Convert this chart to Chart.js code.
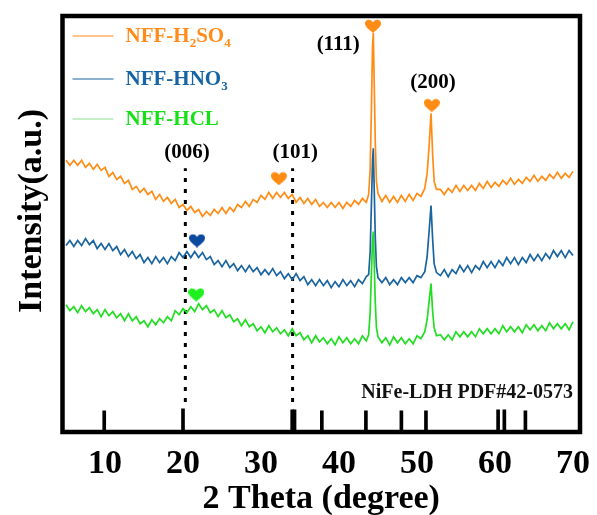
<!DOCTYPE html>
<html>
<head>
<meta charset="utf-8">
<script src="https://cdn.jsdelivr.net/npm/chart.js@4"></script>
<style>html,body{margin:0;padding:0;background:#fff;}canvas{display:block;}</style>
</head>
<body>
<canvas id="c" width="597" height="515"></canvas>
<script>
// 2θ sampling positions (degrees)
const twoTheta = [5,5.5,6,6.5,7,7.5,8,8.5,9,9.5,10,10.5,11,11.5,12,12.5,13,13.5,14,14.5,15,15.5,16,16.5,17,17.5,18,18.5,19,19.5,20,20.5,21,21.5,22,22.5,23,23.5,24,24.5,25,25.5,26,26.5,27,27.5,28,28.5,29,29.5,30,30.5,31,31.5,32,32.5,33,33.5,34,34.5,35,35.5,36,36.5,37,37.5,38,38.5,39,39.5,40,40.5,41,41.5,42,42.5,43,43.5,
43.8,44.0,44.15,44.3,44.4,44.5,44.65,44.8,45.0,
45.5,46,46.5,47,47.5,48,48.5,49,49.5,50,50.5,
51.0,51.3,51.55,51.8,52.0,52.2,52.5,
53,53.5,54,54.5,55,55.5,56,56.5,57,57.5,58,58.5,59,59.5,60,60.5,61,61.5,62,62.5,63,63.5,64,64.5,65,65.5,66,66.5,67,67.5,68,68.5,69,69.5,70];

// Intensities (a.u., stacked with offsets as in the figure)
const nffH2SO4 = [271,266,271,266,271,264,268,262,267,261,264,255,259,252,255,248,251,242,245,239,243,237,240,232,237,230,234,228,232,224,227,221,225,219,222,215,220,216,222,218,224,218,224,220,227,224,230,225,232,229,236,232,239,233,239,234,239,233,237,229,234,228,233,227,232,225,229,224,229,224,229,223,229,225,231,227,233,229,
237,262,320,385,398,355,290,250,238,
230,236,229,235,229,236,230,237,231,238,235,
243,258,285,318,278,250,242,
242,237,243,239,246,240,246,241,246,241,248,243,250,244,249,245,251,247,253,247,252,248,254,250,256,250,255,251,257,253,259,253,258,254,260];

const nffHNO3 = [186,191,185,191,186,193,187,191,183,188,182,188,181,185,177,182,175,180,173,177,169,174,168,175,169,174,168,175,171,179,174,180,174,180,174,179,172,175,167,171,165,171,164,168,161,166,160,166,160,164,157,162,157,163,156,160,153,158,152,158,151,155,147,152,146,152,146,151,144,150,145,152,146,151,145,152,148,155,
157,180,225,270,283,248,195,165,154,
149,154,147,152,147,154,149,154,149,156,154,
160,175,200,226,193,168,159,
156,162,155,162,158,166,160,166,159,166,162,170,164,170,164,171,166,174,168,174,167,174,169,177,171,177,171,178,173,181,175,181,174,181,176];

const nffHCL = [127,121,125,119,126,120,124,118,122,115,122,116,120,114,118,111,118,111,115,108,111,105,112,107,113,109,115,111,121,117,123,119,125,120,128,122,126,119,122,115,121,114,117,110,113,106,112,105,108,101,105,99,106,100,104,98,102,96,103,96,99,92,96,89,96,90,94,88,93,87,95,89,94,88,93,88,96,91,
97,120,158,190,200,172,130,104,95,
89,94,87,95,89,94,88,93,88,96,93,
100,112,130,148,121,104,96,
97,92,97,92,100,95,100,95,100,95,103,98,103,98,103,98,106,100,105,100,105,99,107,102,107,101,106,101,109,103,108,103,108,102,110];

// NiFe-LDH reference pattern (PDF#42-0573) stick positions and heights
const refPeaks = [9.9, 20.0, 34.0, 34.3, 37.8, 43.45, 48.0, 51.15, 60.4, 61.2, 63.9];
const refHeights = [21, 23, 22, 22, 21, 21, 21, 21, 22, 22, 21];

// Dotted guide lines
const guideX = [20.3, 34.05];
const guideYRange = [30, 263];

// Peak index labels
const hklLabels = ['(006)', '(101)', '(111)', '(200)'];
const hklX = [20.5, 34.4, 39.9, 52.05];
const hklY = [279, 279, 386, 349];

// Heart markers
const heartOrangeX = [44.36, 51.9, 32.3];
const heartOrangeY = [405, 326, 253];
const heartBlueX = [21.8];
const heartBlueY = [191];
const heartGreenX = [21.7];
const heartGreenY = [137];

const xTickValues = [10, 20, 30, 40, 50, 60, 70];
const seriesNames = ['NFF-H₂SO₄', 'NFF-HNO₃', 'NFF-HCL'];

const ORANGE = '#FF8C14', BLUE = '#1A64A0', GREEN = '#22DD22';
const FONT = '"Liberation Serif", "Times New Roman", serif';

function heartCanvas(color, w, h) {
  const cv = document.createElement('canvas');
  cv.width = w; cv.height = h;
  const g = cv.getContext('2d');
  g.fillStyle = color;
  g.beginPath();
  g.moveTo(w/2, h);
  g.bezierCurveTo(w*0.42, h*0.86, 0, h*0.62, 0, h*0.32);
  g.bezierCurveTo(0, h*0.02, w*0.36, -h*0.04, w/2, h*0.24);
  g.bezierCurveTo(w*0.64, -h*0.04, w, h*0.02, w, h*0.32);
  g.bezierCurveTo(w, h*0.62, w*0.58, h*0.86, w/2, h);
  g.closePath();
  g.fill();
  return cv;
}

const xy = (xs, ys) => xs.map((x, i) => ({x: x, y: ys[i]}));

const datasets = [
  {label: seriesNames[0], data: xy(twoTheta, nffH2SO4), borderColor: ORANGE, borderWidth: 1.7, pointRadius: 0, tension: 0},
  {label: seriesNames[1], data: xy(twoTheta, nffHNO3), borderColor: BLUE, borderWidth: 1.7, pointRadius: 0, tension: 0},
  {label: seriesNames[2], data: xy(twoTheta, nffHCL), borderColor: GREEN, borderWidth: 1.7, pointRadius: 0, tension: 0},
  {type: 'bar', label: 'ref', data: refPeaks.map((x, i) => ({x: x, y: [0, refHeights[i]]})), backgroundColor: '#000', barThickness: 3},
];
guideX.forEach(gx => datasets.push({label: 'guide', data: [{x: gx, y: guideYRange[0]}, {x: gx, y: guideYRange[1]}], borderColor: '#000', borderWidth: 3, borderDash: [4, 7], pointRadius: 0}));
const heartOpts = {type: 'scatter', showLine: false, pointRadius: 8, pointHoverRadius: 8};
datasets.push(Object.assign({label: 'h1', data: xy(heartOrangeX, heartOrangeY), pointStyle: heartCanvas(ORANGE, 16, 14)}, heartOpts));
datasets.push(Object.assign({label: 'h2', data: xy(heartBlueX, heartBlueY), pointStyle: heartCanvas('#0B4A9E', 16, 14)}, heartOpts));
datasets.push(Object.assign({label: 'h3', data: xy(heartGreenX, heartGreenY), pointStyle: heartCanvas('#1EF01E', 16, 14)}, heartOpts));

function drawRich(ctx, parts, x, y, size) {
  let cx = x;
  parts.forEach(p => {
    const s = p.sub ? Math.round(size * 0.62) : size;
    ctx.font = 'bold ' + s + 'px ' + FONT;
    ctx.fillText(p.t, cx, p.sub ? y + size * 0.3 : y);
    cx += ctx.measureText(p.t).width;
  });
}

const decor = {
  id: 'decor',
  afterDatasetsDraw(chart) {
    const ctx = chart.ctx, a = chart.chartArea;
    const xs = chart.scales.x, ys = chart.scales.y;
    ctx.save();
    ctx.fillStyle = '#000';
    ctx.textAlign = 'center';
    ctx.textBaseline = 'middle';
    ctx.font = 'bold 21px ' + FONT;
    hklLabels.forEach((t, i) => ctx.fillText(t, xs.getPixelForValue(hklX[i]), ys.getPixelForValue(hklY[i])));
    ctx.textAlign = 'right';
    ctx.font = 'bold 20px ' + FONT;
    ctx.fillStyle = '#111';
    ctx.fillText('NiFe-LDH PDF#42-0573', a.right - 7, a.bottom - 39);
    const rows = [
      {c: ORANGE, tc: '#FF8C1A', y: a.top + 20, parts: [{t: 'NFF-H'}, {t: '2', sub: true}, {t: 'SO'}, {t: '4', sub: true}]},
      {c: BLUE, tc: '#1565A6', y: a.top + 63, parts: [{t: 'NFF-HNO'}, {t: '3', sub: true}]},
      {c: '#90E090', tc: '#16E016', y: a.top + 103, parts: [{t: 'NFF-HCL'}]},
    ];
    ctx.textAlign = 'left';
    rows.forEach(r => {
      ctx.strokeStyle = r.c; ctx.lineWidth = 1.2;
      ctx.beginPath(); ctx.moveTo(a.left + 10, r.y); ctx.lineTo(a.left + 51, r.y); ctx.stroke();
      ctx.fillStyle = r.tc;
      drawRich(ctx, r.parts, a.left + 63, r.y + 1, 21);
    });
    ctx.strokeStyle = '#000'; ctx.lineWidth = 4.5;
    ctx.strokeRect(a.left, a.top, a.right - a.left, a.bottom - a.top);
    ctx.translate(32, 211);
    ctx.rotate(-Math.PI / 2);
    ctx.textAlign = 'center';
    ctx.fillStyle = '#000';
    ctx.font = 'bold 34px ' + FONT;
    ctx.fillText('Intensity(a.u.)', 0, 0);
    ctx.restore();
  }
};

new Chart(document.getElementById('c'), {
  type: 'line',
  data: {datasets: datasets},
  options: {
    responsive: false,
    animation: false,
    layout: {padding: {left: 62.5, top: 16, right: 17, bottom: 4}},
    plugins: {legend: {display: false}, tooltip: {enabled: false}},
    elements: {point: {radius: 0}},
    scales: {
      x: {
        type: 'linear', min: 4.55, max: 70.9, offset: false,
        afterBuildTicks: s => { s.ticks = xTickValues.map(v => ({value: v})); },
        afterFit: s => { s.paddingLeft = 0; s.paddingRight = 0; },
        grid: {display: false, drawTicks: false, offset: false},
        border: {display: false},
        ticks: {color: '#000', font: {family: FONT, size: 34, weight: 'bold', lineHeight: 1}, padding: 15, maxRotation: 0},
        title: {display: true, text: '2 Theta (degree)', color: '#000', font: {family: FONT, size: 34, weight: 'bold', lineHeight: 1}, padding: {top: -14, bottom: -5}}
      },
      y: {type: 'linear', min: 0, max: 415, display: false}
    }
  },
  plugins: [decor]
});
</script>
</body>
</html>
